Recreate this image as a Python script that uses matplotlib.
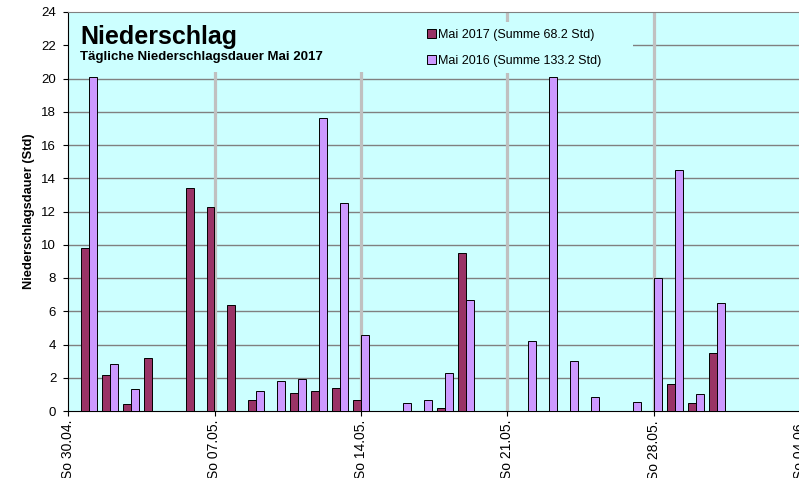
import numpy as np
import matplotlib.pyplot as plt
from matplotlib.patches import Rectangle

plt.rcParams['font.family'] = ['Liberation Sans', 'DejaVu Sans']

# daily precipitation duration (hours), May 1..31
days = np.arange(1, 32)
mai_2017 = [9.8, 2.15, 0.4, 3.2, 0, 13.4, 12.3, 6.35, 0.65, 0, 1.1, 1.2, 1.4, 0.65, 0,
            0, 0, 0.2, 9.5, 0, 0, 0, 0, 0, 0, 0, 0, 0, 1.6, 0.5, 3.5]
mai_2016 = [20.1, 2.85, 1.3, 0, 0, 0, 0, 0, 1.2, 1.8, 1.95, 17.6, 12.5, 4.6, 0,
            0.5, 0.65, 2.3, 6.7, 0, 0, 4.2, 20.1, 3.0, 0.85, 0, 0.55, 8.0, 14.5, 1.0, 6.5]
sunday_pos = [0, 7, 14, 21, 28, 35]
sunday_labels = ['So 30.04.', 'So 07.05.', 'So 14.05.', 'So 21.05.', 'So 28.05.', 'So 04.06.']

W, H = 799, 478
fig = plt.figure(figsize=(W / 100, H / 100), dpi=100)
ax = fig.add_axes([68 / W, (H - 411) / H, (800.5 - 68) / W, (411 - 12) / H])
ax.set_facecolor('#CCFFFF')

# grid: horizontal gray lines, thick light gray lines at sundays
for y in range(2, 24, 2):
    ax.axhline(y, color='#808080', lw=1.0, zorder=1)
for x in sunday_pos[1:]:
    ax.axvline(x, color='#C0C0C0', lw=2.3, zorder=1.5)

bw = 0.38
ax.bar(days - bw / 2, mai_2017, width=bw, color='#993366', edgecolor='black', lw=0.7,
       zorder=3, label='Mai 2017 (Summe 68.2 Std)')
ax.bar(days + bw / 2, mai_2016, width=bw, color='#CC99FF', edgecolor='black', lw=0.7,
       zorder=3, label='Mai 2016 (Summe 133.2 Std)')

ax.set_xlim(0, 35)
ax.set_ylim(0, 24)
ax.set_yticks(range(0, 25, 2))
ax.set_xticks(sunday_pos)
ax.set_xticklabels(sunday_labels, rotation=90, fontsize=10, va='top')
ax.tick_params(axis='y', labelsize=9.5, length=3.5, width=0.8, pad=5)
ax.tick_params(axis='x', length=3.5, width=0.8, pad=3)
ax.set_ylabel('Niederschlagsdauer (Std)', fontsize=9.3, fontweight='bold', labelpad=4.5)

ax.spines['right'].set_visible(False)
ax.spines['top'].set_color('#808080')
ax.spines['left'].set_linewidth(0.8)
ax.spines['bottom'].set_linewidth(0.8)

# title and legend areas cover the grid
ax.add_patch(Rectangle((68.5 / W, 1 - 72 / H), (420 - 68.5) / W, (72 - 13) / H,
                       transform=fig.transFigure, facecolor='#CCFFFF', edgecolor='none',
                       zorder=2))
ax.add_patch(Rectangle((420 / W, 1 - 73 / H), (633 - 420) / W, (73 - 22) / H,
                       transform=fig.transFigure, facecolor='#CCFFFF', edgecolor='none',
                       zorder=2))
fig.text(80 / W, 1 - 44 / H, 'Niederschlag', fontsize=18, fontweight='bold', va='baseline')
fig.text(80 / W, 1 - 60 / H, 'Tägliche Niederschlagsdauer Mai 2017', fontsize=9.5,
         fontweight='bold', va='baseline')

leg = ax.legend(loc='upper left', bbox_to_anchor=(420 / W, 1 - 22 / H),
                bbox_transform=fig.transFigure, fontsize=9, frameon=False,
                handlelength=0.7, handleheight=0.7, handletextpad=0.15,
                labelspacing=1.1, borderpad=0.55, borderaxespad=0)
leg.set_zorder(4)

fig.savefig('out.png', dpi=100)
